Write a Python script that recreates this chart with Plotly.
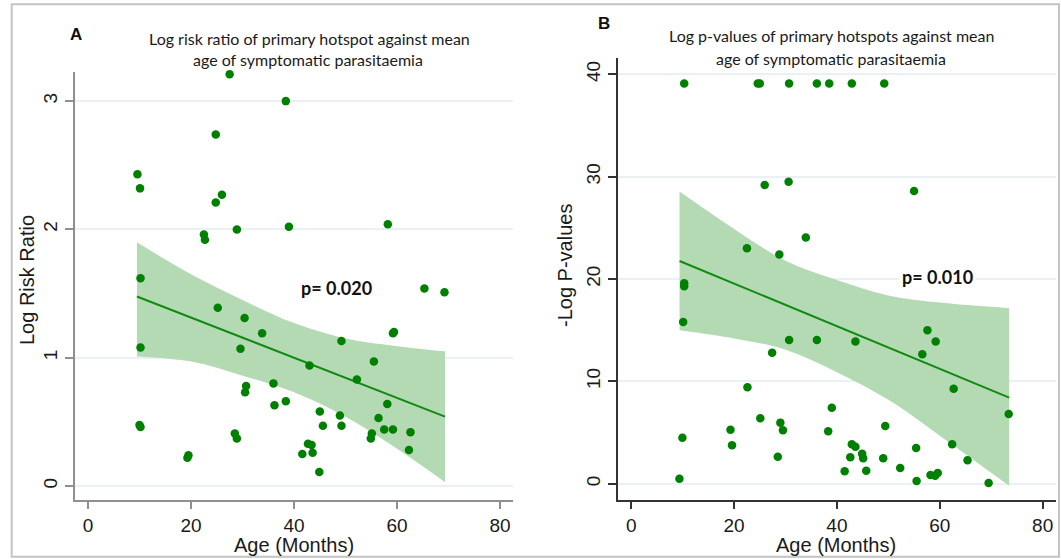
import plotly.graph_objects as go

W, H = 1061, 559

# ---------- Panel A data ----------
age_a = [27.5, 38.4, 24.8, 9.6, 10.1, 26.0, 24.8, 28.9, 39.0, 22.5, 22.7, 10.2, 25.2,
         58.2, 65.3, 69.2, 10.2, 30.4, 33.8, 29.6, 36.0, 30.7, 30.5, 36.2, 38.4, 10.0,
         10.2, 28.5, 28.9, 19.5, 19.3, 41.6, 49.2, 59.2, 59.4, 43.0, 55.5, 52.2, 58.1,
         45.0, 48.9, 56.4, 45.6, 49.2, 57.5, 59.2, 62.6, 55.1, 54.9, 42.7, 43.4, 43.6,
         62.3, 44.9]
lrr_a = [3.21, 3.00, 2.74, 2.43, 2.32, 2.27, 2.21, 2.00, 2.02, 1.96, 1.92, 1.62, 1.39,
         2.04, 1.54, 1.51, 1.08, 1.31, 1.19, 1.07, 0.80, 0.78, 0.73, 0.63, 0.66, 0.475,
         0.46, 0.41, 0.37, 0.24, 0.22, 0.25, 1.13, 1.19, 1.20, 0.94, 0.97, 0.83, 0.64,
         0.58, 0.55, 0.53, 0.47, 0.47, 0.44, 0.44, 0.42, 0.41, 0.37, 0.33, 0.32, 0.26,
         0.28, 0.11]
fit_x_a = [9.5, 20, 30, 40, 50, 60, 69.3]
fit_a = [1.477, 1.313, 1.157, 1.000, 0.843, 0.687, 0.541]
ci_hi_a = [1.90, 1.65, 1.45, 1.27, 1.15, 1.09, 1.05]
ci_lo_a = [1.01, 0.97, 0.86, 0.73, 0.54, 0.29, 0.03]

# ---------- Panel B data ----------
age_b = [10.3, 24.6, 25.0, 30.7, 36.1, 38.5, 42.9, 49.2, 25.95, 30.6, 22.5, 28.8, 33.95,
         10.3, 10.3, 55.0, 10.1, 30.7, 36.1, 27.4, 22.6, 25.1, 19.3, 29.0, 29.5, 9.95,
         19.6, 28.5, 9.37, 43.6, 57.6, 59.2, 56.6, 62.7, 73.4, 39.0, 38.3, 49.4, 42.9,
         43.6, 55.4, 62.4, 44.9, 45.1, 42.6, 49.0, 65.4, 41.5, 45.7, 52.3, 58.2, 59.1,
         59.6, 55.5, 69.5]
lp_b = [39.1, 39.1, 39.1, 39.1, 39.1, 39.1, 39.1, 39.1, 29.2, 29.5, 23.0, 22.4, 24.05,
        19.6, 19.3, 28.6, 15.8, 14.05, 14.05, 12.8, 9.42, 6.39, 5.28, 5.97, 5.22, 4.5,
        3.75, 2.64, 0.49, 13.9, 15.0, 13.9, 12.65, 9.29, 6.81, 7.43, 5.12, 5.64, 3.85,
        3.62, 3.49, 3.85, 2.93, 2.48, 2.58, 2.48, 2.29, 1.21, 1.27, 1.53, 0.85, 0.78,
        1.05, 0.26, 0.07]
fit_x_b = [9.4, 20, 30, 40, 50, 60, 73.5]
fit_b = [21.76, 19.55, 17.47, 15.39, 13.30, 11.22, 8.41]
ci_hi_b = [28.55, 24.9, 21.8, 19.9, 18.4, 17.7, 17.15]
ci_lo_b = [15.0, 14.2, 13.1, 10.9, 8.2, 4.7, -0.2]

x_ticks = [0, 20, 40, 60, 80]
y_ticks_a = [0, 1, 2, 3]
y_ticks_b = [0, 10, 20, 30, 40]

MARK = "#008000"
LINE = "#108a10"
BAND = "rgb(180,218,180)"
GRID = "rgb(234,240,243)"
TICKFONT = dict(family="Liberation Sans, Arial", size=19, color="#1a1a1a")
TITLEFONT = dict(family="Lato, Calibri, sans-serif", size=16, color="#1a1a1a")

fig = go.Figure()

def add_panel(xa, ya, ax, ay, fx, fy, hi, lo):
    fig.add_trace(go.Scatter(x=fx, y=lo, mode="lines",
                             line=dict(width=0, shape="spline", color=BAND),
                             xaxis=ax, yaxis=ay, hoverinfo="skip", showlegend=False))
    fig.add_trace(go.Scatter(x=fx, y=hi, mode="lines", fill="tonexty",
                             fillcolor=BAND, line=dict(width=0, shape="spline", color=BAND),
                             xaxis=ax, yaxis=ay, hoverinfo="skip", showlegend=False))
    fig.add_trace(go.Scatter(x=[fx[0], fx[-1]], y=[fy[0], fy[-1]], mode="lines",
                             line=dict(color=LINE, width=2),
                             xaxis=ax, yaxis=ay, showlegend=False))
    fig.add_trace(go.Scatter(x=xa, y=ya, mode="markers", cliponaxis=False,
                             marker=dict(color=MARK, size=8.5),
                             xaxis=ax, yaxis=ay, showlegend=False))

add_panel(age_a, lrr_a, "x", "y", fit_x_a, fit_a, ci_hi_a, ci_lo_a)
add_panel(age_b, lp_b, "x2", "y2", fit_x_b, fit_b, ci_hi_b, ci_lo_b)

def px(v):
    return v / W

def py(v):
    return 1 - v / H

common_x = dict(tickvals=x_ticks, ticks="outside", ticklen=7, showgrid=False,
                zeroline=False, showline=True, tickfont=TICKFONT)
common_y = dict(ticks="outside", ticklen=8, showgrid=True, gridcolor=GRID,
                gridwidth=2, zeroline=False, showline=True, tickfont=TICKFONT,
                tickangle=-90)

fig.update_layout(
    width=W, height=H, margin=dict(l=0, r=0, t=0, b=0),
    paper_bgcolor="white", plot_bgcolor="white",
    xaxis=dict(domain=[px(75), px(513)], range=[-2.52, 82.5], anchor="y",
               linecolor="#8f8f8f", linewidth=2, tickcolor="#8f8f8f", tickwidth=2,
               **common_x),
    yaxis=dict(domain=[py(500), py(72)], range=[-0.109, 3.227], anchor="x",
               tickvals=y_ticks_a, linecolor="#8f8f8f", linewidth=2,
               tickcolor="#8f8f8f", tickwidth=2, **common_y),
    xaxis2=dict(domain=[px(617.5), px(1056)], range=[-2.67, 82.6], anchor="y2",
                linecolor="#333333", linewidth=1.5, tickcolor="#333333", tickwidth=1.5,
                **common_x),
    yaxis2=dict(domain=[py(500), py(58)], range=[-1.59, 41.6], anchor="x2",
                tickvals=y_ticks_b, linecolor="#333333", linewidth=1.5,
                tickcolor="#333333", tickwidth=1.5, **common_y),
)

AXT = dict(family="Liberation Sans, Arial", size=20, color="#1a1a1a")
LBL = dict(family="Liberation Sans, Arial", size=17, color="#111")

ann = [
    dict(x=px(76), y=py(35), text="<b>A</b>", font=LBL),
    dict(x=px(604), y=py(23), text="<b>B</b>", font=LBL),
    dict(x=px(309), y=py(38), text="Log risk ratio of primary hotspot against mean", font=TITLEFONT),
    dict(x=px(308), y=py(59), text="age of symptomatic parasitaemia", font=TITLEFONT),
    dict(x=px(831), y=py(36), text="Log p-values of primary hotspots against mean", font=TITLEFONT),
    dict(x=px(831), y=py(58), text="age of symptomatic parasitaemia", font=TITLEFONT),
    dict(x=px(27), y=py(280), text="Log Risk Ratio", textangle=-90, font=AXT),
    dict(x=px(565), y=py(266), text="-Log P-values", textangle=-90, font=AXT),
    dict(x=px(294), y=py(545), text="Age (Months)", font=AXT),
    dict(x=px(836), y=py(545), text="Age (Months)", font=AXT),
]
for a in ann:
    a.update(xref="paper", yref="paper", showarrow=False, xanchor="center", yanchor="middle")
    fig.add_annotation(**a)

pfont = dict(family="Lato, Calibri, sans-serif", size=18, color="#111")
fig.add_annotation(x=48.2, y=1.543, xref="x", yref="y", text="<b>p= 0.020</b>",
                   showarrow=False, font=pfont)
fig.add_annotation(x=59.6, y=20.2, xref="x2", yref="y2", text="<b>p= 0.010</b>",
                   showarrow=False, font=pfont, bgcolor="white", borderpad=2)

fig.add_shape(type="rect", xref="paper", yref="paper",
              x0=px(11.7), x1=px(1059), y0=py(556.7), y1=py(4.3),
              line=dict(color="#c4c4c4", width=2), fillcolor="rgba(0,0,0,0)", layer="below")

fig.write_html("out.html")
